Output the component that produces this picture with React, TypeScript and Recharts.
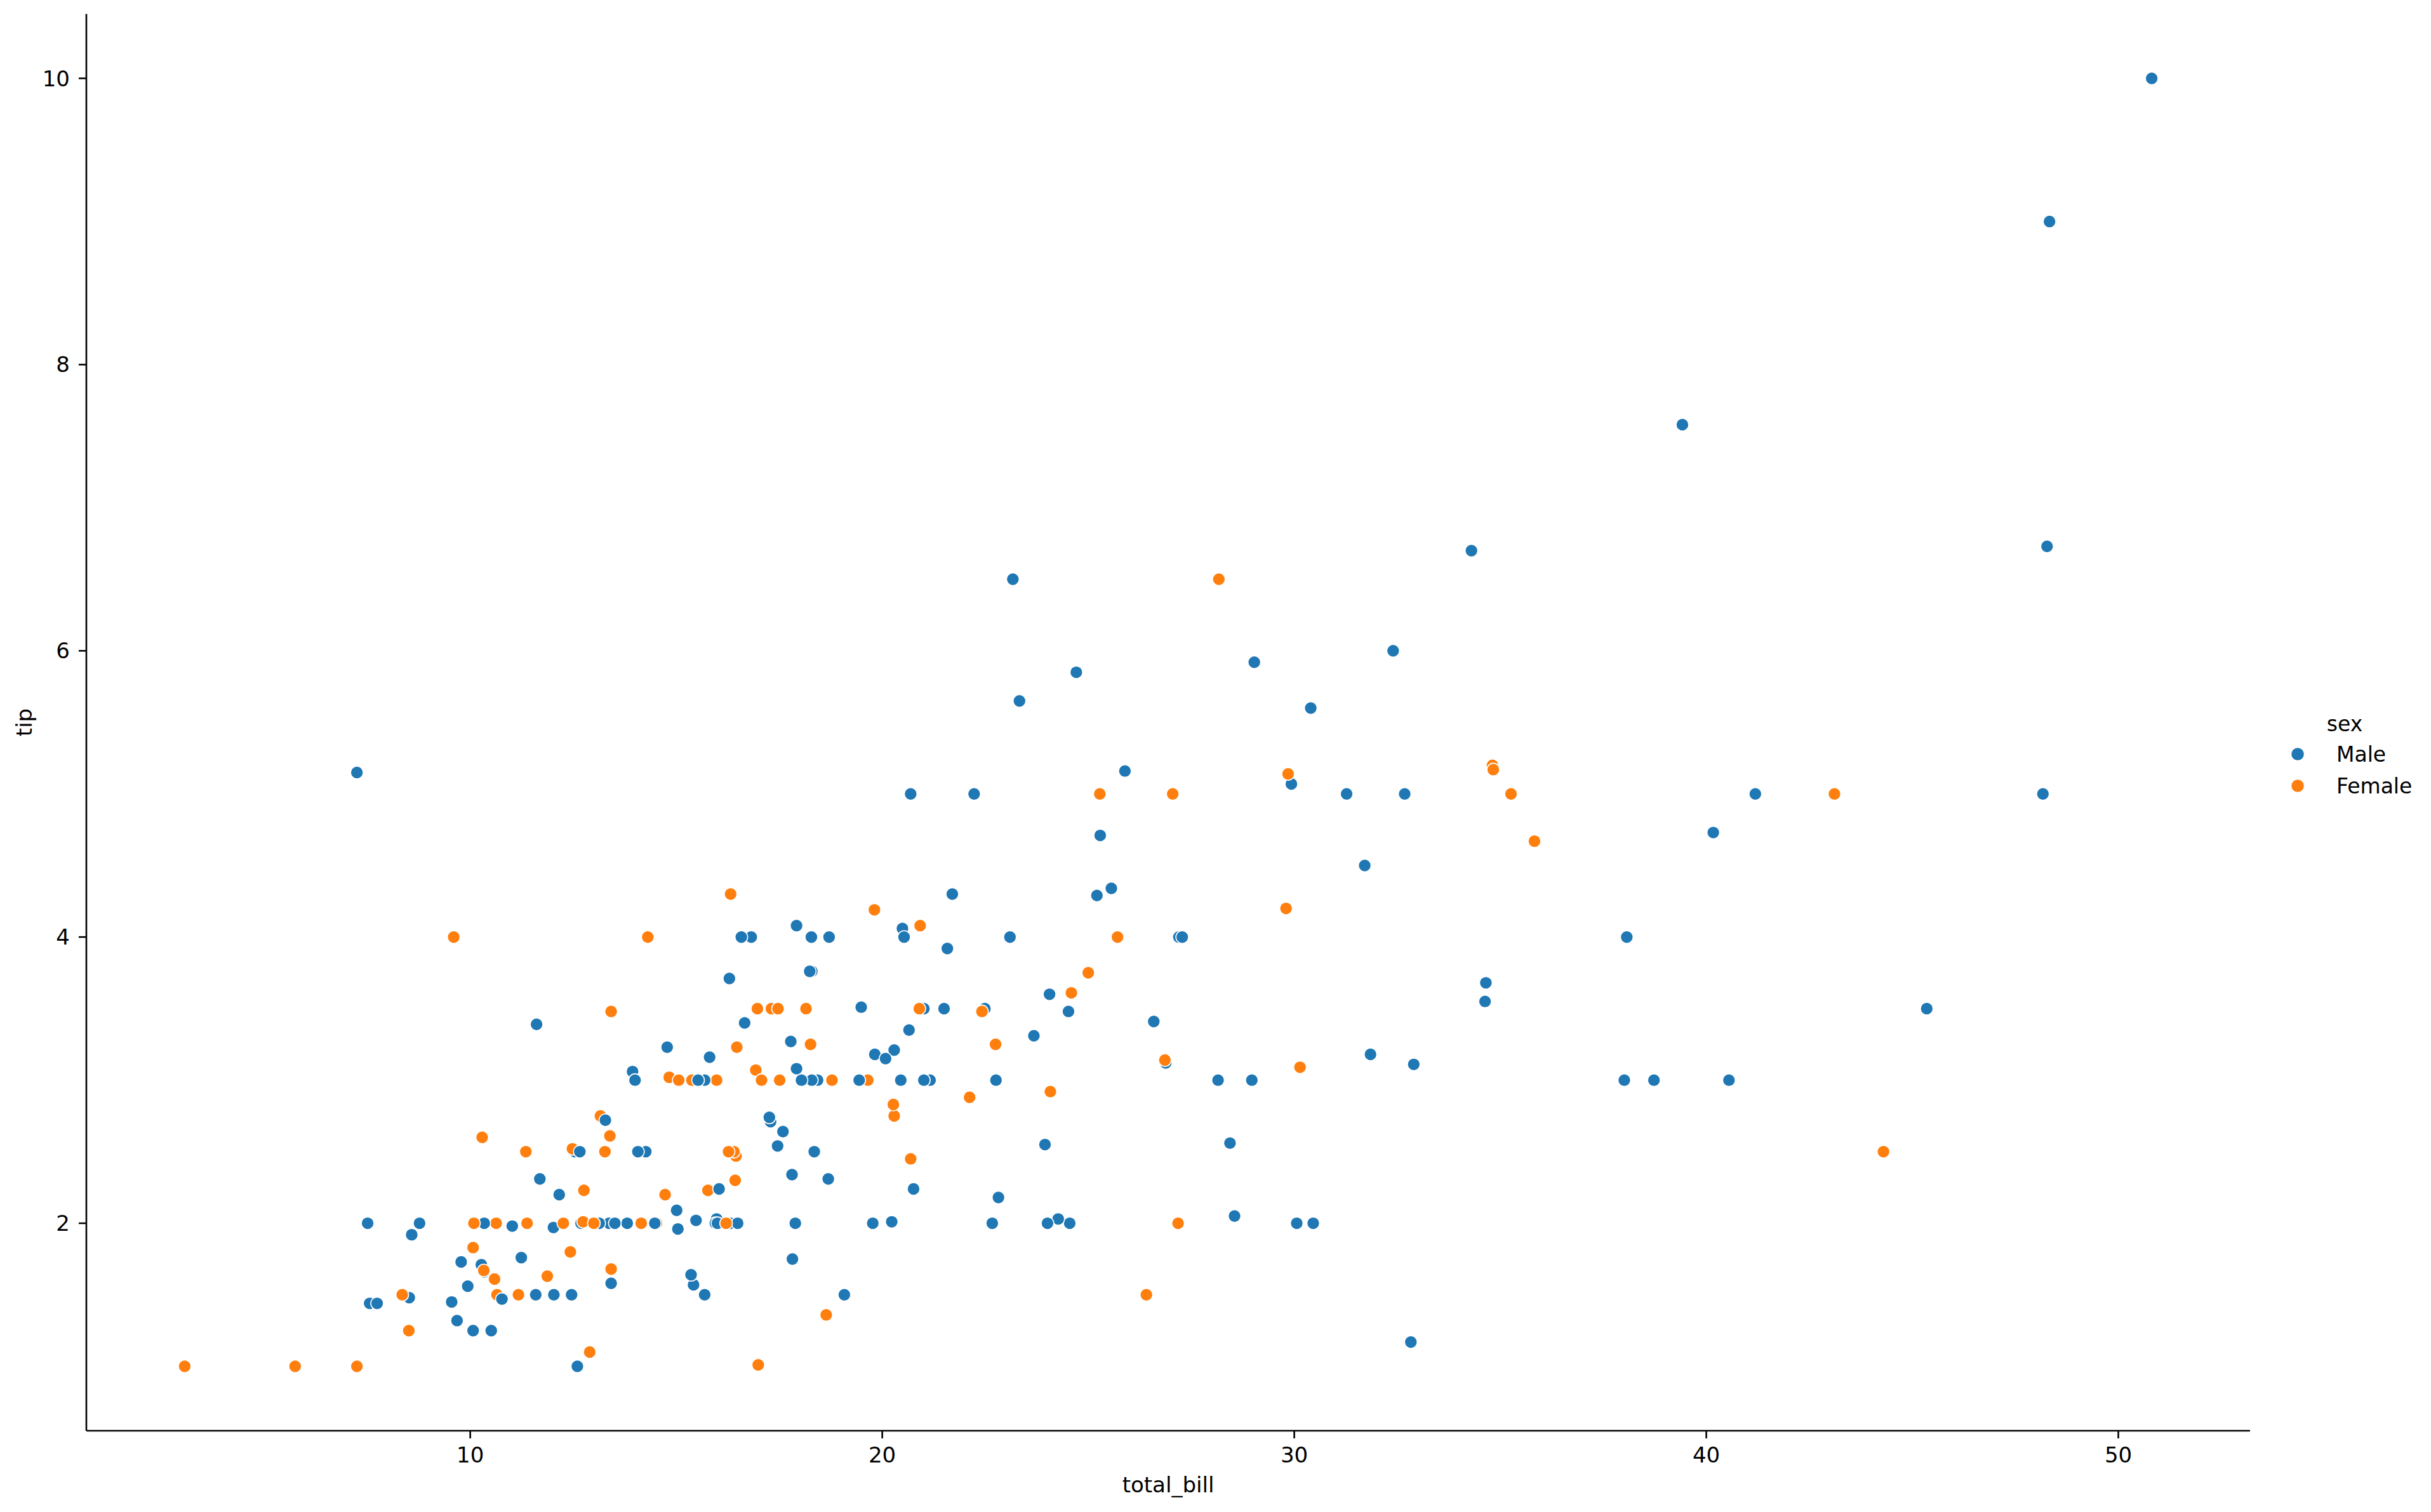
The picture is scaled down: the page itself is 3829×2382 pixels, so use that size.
import React from "react";
import { ScatterChart, Scatter, XAxis, YAxis, Legend } from "recharts";

// tips dataset: total_bill, tip, sex (row order kept so overlaps draw the same way)
const totalBill = [
  16.99, 10.34, 21.01, 23.68, 24.59, 25.29, 8.77, 26.88, 15.04, 14.78, 10.27, 35.26, 15.42, 18.43, 14.83, 21.58,
  10.33, 16.29, 16.97, 20.65, 17.92, 20.29, 15.77, 39.42, 19.82, 17.81, 13.37, 12.69, 21.7, 19.65, 9.55, 18.35,
  15.06, 20.69, 17.78, 24.06, 16.31, 16.93, 18.69, 31.27, 16.04, 17.46, 13.94, 9.68, 30.4, 18.29, 22.23, 32.4,
  28.55, 18.04, 12.54, 10.29, 34.81, 9.94, 25.56, 19.49, 38.01, 26.41, 11.24, 48.27, 20.29, 13.81, 11.02, 18.29,
  17.59, 20.08, 16.45, 3.07, 20.23, 15.01, 12.02, 17.07, 26.86, 25.28, 14.73, 10.51, 17.92, 27.2, 22.76, 17.29,
  19.44, 16.66, 10.07, 32.68, 15.98, 34.83, 13.03, 18.28, 24.71, 21.16, 28.97, 22.49, 5.75, 16.32, 22.75, 40.17,
  27.28, 12.03, 21.01, 12.46, 11.35, 15.38, 44.3, 22.42, 20.92, 15.36, 20.49, 25.21, 18.24, 14.31, 14.0, 7.25,
  38.07, 23.95, 25.71, 17.31, 29.93, 10.65, 12.43, 24.08, 11.69, 13.42, 14.26, 15.95, 12.48, 29.8, 8.52, 14.52,
  11.38, 22.82, 19.08, 20.27, 11.17, 12.26, 18.26, 8.51, 10.33, 14.15, 16.0, 13.16, 17.47, 34.3, 41.19, 27.05,
  16.43, 8.35, 18.64, 11.87, 9.78, 7.51, 14.07, 13.13, 17.26, 24.55, 19.77, 29.85, 48.17, 25.0, 13.39, 16.49,
  21.5, 12.66, 16.21, 13.81, 17.51, 24.52, 20.76, 31.71, 10.59, 10.63, 50.81, 15.81, 7.25, 31.85, 16.82, 32.9,
  17.89, 14.48, 9.6, 34.63, 34.65, 23.33, 45.35, 23.17, 40.55, 20.69, 20.9, 30.46, 18.15, 23.1, 15.69, 19.81,
  28.44, 15.48, 16.58, 7.56, 10.34, 43.11, 13.0, 13.51, 18.71, 12.74, 13.0, 16.4, 20.53, 16.47, 26.59, 38.73,
  24.27, 12.76, 30.06, 25.89, 48.33, 13.27, 28.17, 12.9, 28.15, 11.59, 7.74, 30.14, 12.16, 13.42, 8.58, 15.98,
  13.42, 16.27, 10.09, 20.45, 13.28, 22.12, 24.01, 15.69, 11.61, 10.77, 15.53, 10.07, 12.6, 32.83, 35.83, 29.03,
  27.18, 22.67, 17.82, 18.78,
];

const tip = [
  1.01, 1.66, 3.5, 3.31, 3.61, 4.71, 2.0, 3.12, 1.96, 3.23, 1.71, 5.0, 1.57, 3.0, 3.02, 3.92,
  1.67, 3.71, 3.5, 3.35, 4.08, 2.75, 2.23, 7.58, 3.18, 2.34, 2.0, 2.0, 4.3, 3.0, 1.45, 2.5,
  3.0, 2.45, 3.27, 3.6, 2.0, 3.07, 2.31, 5.0, 2.24, 2.54, 3.06, 1.32, 5.6, 3.0, 5.0, 6.0,
  2.05, 3.0, 2.5, 2.6, 5.2, 1.56, 4.34, 3.51, 3.0, 1.5, 1.76, 6.73, 3.21, 2.0, 1.98, 3.76,
  2.64, 3.15, 2.47, 1.0, 2.01, 2.09, 1.97, 3.0, 3.14, 5.0, 2.2, 1.25, 3.08, 4.0, 3.0, 2.71,
  3.0, 3.4, 1.83, 5.0, 2.03, 5.17, 2.0, 4.0, 5.85, 3.0, 3.0, 3.5, 1.0, 4.3, 3.25, 4.73,
  4.0, 1.5, 3.0, 1.5, 2.5, 3.0, 2.5, 3.48, 4.08, 1.64, 4.06, 4.29, 3.76, 4.0, 3.0, 1.0,
  4.0, 2.55, 4.0, 3.5, 5.07, 1.5, 1.8, 2.92, 2.31, 1.68, 2.5, 2.0, 2.52, 4.2, 1.48, 2.0,
  2.0, 2.18, 1.5, 2.83, 1.5, 2.0, 3.25, 1.25, 2.0, 2.0, 2.0, 2.75, 3.5, 6.7, 5.0, 5.0,
  2.3, 1.5, 1.36, 1.63, 1.73, 2.0, 2.5, 2.0, 2.74, 2.0, 2.0, 5.14, 5.0, 3.75, 2.61, 2.0,
  3.5, 2.5, 2.0, 2.0, 3.0, 3.48, 2.24, 4.5, 1.61, 2.0, 10.0, 3.16, 5.15, 3.18, 4.0, 3.11,
  2.0, 2.0, 4.0, 3.55, 3.68, 5.65, 3.5, 6.5, 3.0, 5.0, 3.5, 2.0, 3.5, 4.0, 1.5, 4.19,
  2.56, 2.02, 4.0, 1.44, 2.0, 5.0, 2.0, 2.0, 4.0, 2.01, 2.0, 2.5, 4.0, 3.23, 3.41, 3.0,
  2.03, 2.23, 2.0, 5.16, 9.0, 2.5, 6.5, 1.1, 3.0, 1.5, 1.44, 3.09, 2.2, 3.48, 1.92, 3.0,
  1.58, 2.5, 2.0, 3.0, 2.72, 2.88, 2.0, 3.0, 3.39, 1.47, 3.0, 1.25, 1.0, 1.17, 4.67, 5.92,
  2.0, 2.0, 1.75, 3.0,
];

const M = "Male";
const F = "Female";
const sex = [
  F, M, M, M, F, M, M, M, M, M, M, F, M, M, F, M,
  F, M, F, M, M, F, F, M, M, M, M, M, M, F, M, M,
  F, F, M, M, M, F, M, M, M, M, M, M, M, M, M, M,
  M, M, M, F, F, M, M, M, M, F, M, M, M, M, M, M,
  M, M, F, F, M, M, M, F, F, F, F, M, M, M, M, M,
  M, M, F, M, M, F, M, M, M, M, M, M, F, F, F, M,
  M, M, M, M, F, F, F, F, F, M, M, M, M, F, M, F,
  M, M, F, F, M, F, F, F, M, F, M, M, F, F, M, F,
  F, M, M, F, F, F, F, F, F, F, M, F, F, M, M, F,
  F, F, F, F, M, M, M, M, M, M, M, F, M, F, F, M,
  M, M, F, M, F, M, M, M, F, F, M, M, M, M, M, M,
  M, M, F, M, M, M, M, M, M, M, F, M, F, M, M, F,
  M, M, M, M, M, F, F, M, M, F, F, F, M, F, M, M,
  M, F, M, M, M, F, F, F, M, M, M, F, M, F, M, F,
  M, F, F, M, M, F, M, M, M, M, M, M, M, M, F, M,
  F, M, M, F,
];

const hues = [M, F];
const hueColors: Record<string, string> = { Male: "#1f77b4", Female: "#ff7f0e" };
const xTicks = [10, 20, 30, 40, 50];
const yTicks = [2, 4, 6, 8, 10];

const points = totalBill.map((x, i) => ({ x, y: tip[i], sex: sex[i] }));

const FONT = "'DejaVu Sans', sans-serif";
const INK = "#000";

function Dot(props: any) {
  const { cx, cy, payload } = props;
  if (cx == null || cy == null) return null;
  return (
    <circle cx={cx} cy={cy} r={10} fill={hueColors[payload.sex]} stroke="#fff" strokeWidth={1.6} />
  );
}

function SexLegend() {
  return (
    <svg width={240} height={170} style={{ display: "block" }}>
      <text x={103} y={52} textAnchor="middle" fontSize={33} fontFamily={FONT} fill={INK}>
        sex
      </text>
      {hues.map((h, i) => (
        <g key={h}>
          <circle cx={29} cy={88 + i * 50} r={10.6} fill={hueColors[h]} stroke="#fff" strokeWidth={1.6} />
          <text x={90} y={100 + i * 50} fontSize={33} fontFamily={FONT} fill={INK}>
            {h}
          </text>
        </g>
      ))}
    </svg>
  );
}

export default function App() {
  return (
    <div style={{ position: "absolute", left: 0, top: 0, width: 3829, height: 2382, background: "#fff" }}>
      <ScatterChart width={3829} height={2382} margin={{ top: 22, right: 285, bottom: 0, left: 0 }}>
        <XAxis
          type="number"
          dataKey="x"
          domain={[0.683, 53.197]}
          allowDataOverflow
          ticks={xTicks}
          interval={0}
          height={128}
          axisLine={{ stroke: INK, strokeWidth: 2.6 }}
          tickLine={{ stroke: INK, strokeWidth: 2.6 }}
          tickSize={12}
          tickMargin={14}
          tick={{ fill: INK, fontSize: 34, fontFamily: FONT }}
          label={{
            value: "total_bill",
            content: (p: any) => (
              <text x={1840} y={2351} textAnchor="middle" fontSize={34} fontFamily={FONT} fill={INK}>
                {p.value}
              </text>
            ),
          }}
        />
        <YAxis
          type="number"
          dataKey="y"
          domain={[0.55, 10.45]}
          allowDataOverflow
          ticks={yTicks}
          interval={0}
          width={136}
          axisLine={{ stroke: INK, strokeWidth: 2.6 }}
          tickLine={{ stroke: INK, strokeWidth: 2.6 }}
          tickSize={12}
          tickMargin={14}
          tick={{ fill: INK, fontSize: 34, fontFamily: FONT }}
          label={{
            value: "tip",
            content: (p: any) => (
              <text
                x={50}
                y={1138}
                transform="rotate(-90 50 1138)"
                textAnchor="middle"
                fontSize={34}
                fontFamily={FONT}
                fill={INK}
              >
                {p.value}
              </text>
            ),
          }}
        />
        <Legend
          layout="vertical"
          align="center"
          verticalAlign="middle"
          content={() => <SexLegend />}
          wrapperStyle={{ position: "absolute", left: 3590, top: 1100, width: 240, height: 170 }}
        />
        <Scatter data={points} shape={Dot} isAnimationActive={false} />
      </ScatterChart>
    </div>
  );
}
